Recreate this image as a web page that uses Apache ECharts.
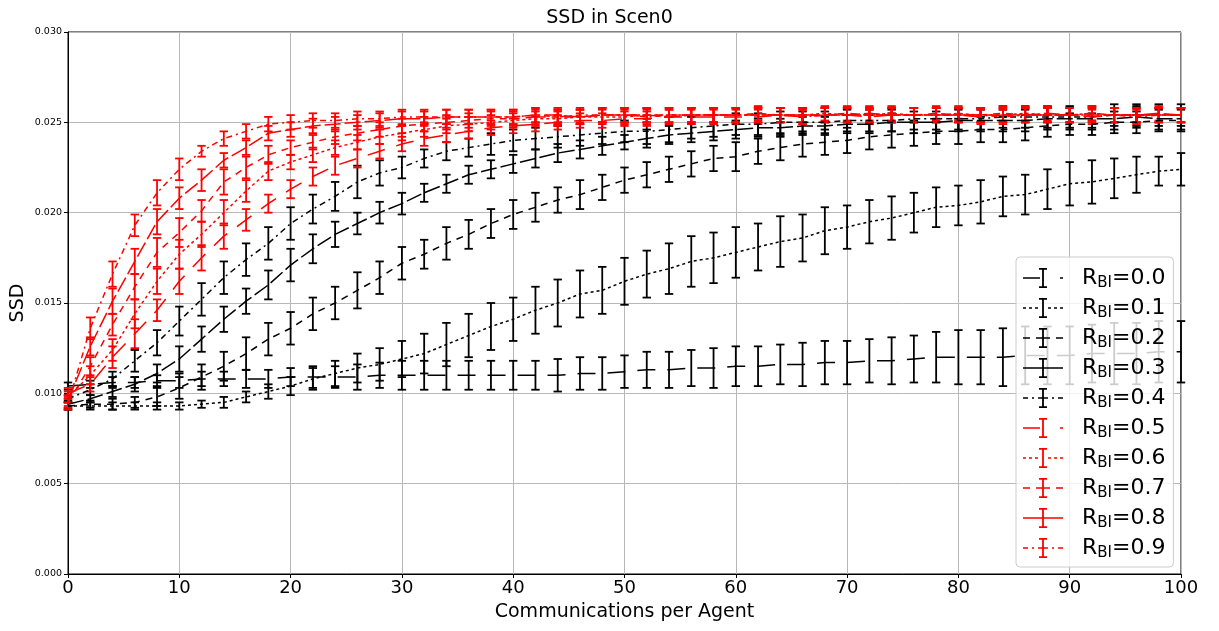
<!DOCTYPE html>
<html><head><meta charset="utf-8">
<script src="https://cdn.jsdelivr.net/npm/echarts@6/dist/echarts.min.js"></script>
<style>html,body{margin:0;padding:0;background:#fff}#c{width:1219px;height:631px}</style>
</head><body><div id="c"></div><script>
const xValues = [0,2,4,6,8,10,12,14,16,18,20,22,24,26,28,30,32,34,36,38,40,42,44,46,48,50,52,54,56,58,60,62,64,66,68,70,72,74,76,78,80,82,84,86,88,90,92,94,96,98,100];
const xTicks = [0,10,20,30,40,50,60,70,80,90,100];
const yTicks = [0,0.005,0.010,0.015,0.020,0.025,0.030];
const seriesLabels = ['0.0','0.1','0.2','0.3','0.4','0.5','0.6','0.7','0.8','0.9'];

const ssd00 = [0.0104,0.0105,0.0106,0.0106,0.0107,0.0107,0.0108,0.0108,0.0108,0.0108,0.0109,
 0.0109,0.0109,0.0109,0.0110,0.0110,0.0110,0.0110,0.0110,0.0110,0.0110,
 0.0110,0.0110,0.0111,0.0111,0.0112,0.0113,0.0113,0.0114,0.0114,0.0115,
 0.0115,0.0116,0.0116,0.0117,0.0117,0.0118,0.0118,0.0119,0.0120,0.0120,
 0.0120,0.0120,0.0121,0.0121,0.0121,0.0122,0.0122,0.0122,0.0123,0.0123];
const err00 = [0.0002,0.0002,0.0003,0.0003,0.0003,0.0004,0.0004,0.0004,0.0005,0.0005,0.0005,
 0.0006,0.0006,0.0007,0.0007,0.0008,0.0008,0.0008,0.0008,0.0008,0.0008,
 0.0008,0.0009,0.0009,0.0009,0.0009,0.0010,0.0010,0.0010,0.0011,0.0011,
 0.0011,0.0011,0.0012,0.0012,0.0012,0.0012,0.0013,0.0013,0.0014,0.0015,
 0.0015,0.0016,0.0016,0.0016,0.0016,0.0016,0.0017,0.0017,0.0017,0.0017];

const ssd01 = [0.0093,0.0093,0.0093,0.0093,0.0093,0.0093,0.0094,0.0095,0.0098,0.0101,0.0104,
 0.0108,0.0111,0.0114,0.0116,0.0119,0.0122,0.0127,0.0132,0.0137,0.0141,
 0.0146,0.0150,0.0155,0.0157,0.0162,0.0166,0.0169,0.0173,0.0175,0.0178,
 0.0181,0.0184,0.0186,0.0190,0.0192,0.0195,0.0197,0.0200,0.0203,0.0204,
 0.0206,0.0209,0.0210,0.0213,0.0216,0.0217,0.0219,0.0221,0.0223,0.0224];
const err01 = [0.0002,0.0002,0.0002,0.0002,0.0002,0.0002,0.0002,0.0003,0.0003,0.0004,0.0005,
 0.0006,0.0007,0.0008,0.0009,0.0010,0.0011,0.0012,0.0012,0.0013,0.0012,
 0.0013,0.0013,0.0013,0.0013,0.0013,0.0013,0.0014,0.0014,0.0014,0.0014,
 0.0013,0.0014,0.0013,0.0013,0.0012,0.0012,0.0012,0.0011,0.0011,0.0011,
 0.0012,0.0011,0.0011,0.0011,0.0012,0.0012,0.0011,0.0010,0.0008,0.0009];

const ssd02 = [0.0093,0.0094,0.0094,0.0095,0.0098,0.0103,0.0109,0.0115,0.0122,0.0130,0.0136,
 0.0144,0.0150,0.0157,0.0164,0.0172,0.0177,0.0183,0.0188,0.0194,0.0199,
 0.0203,0.0207,0.0210,0.0214,0.0218,0.0221,0.0224,0.0227,0.0230,0.0231,
 0.0234,0.0236,0.0238,0.0239,0.0240,0.0242,0.0243,0.0244,0.0245,0.0245,
 0.0246,0.0246,0.0247,0.0248,0.0249,0.0249,0.0250,0.0250,0.0251,0.0251];
const err02 = [0.0002,0.0002,0.0003,0.0003,0.0005,0.0006,0.0007,0.0008,0.0009,0.0009,0.0009,
 0.0009,0.0009,0.0010,0.0009,0.0009,0.0008,0.0009,0.0008,0.0008,0.0008,
 0.0008,0.0007,0.0008,0.0007,0.0007,0.0007,0.0007,0.0007,0.0007,0.0008,
 0.0007,0.0007,0.0007,0.0007,0.0007,0.0007,0.0007,0.0007,0.0007,0.0007,
 0.0007,0.0007,0.0007,0.0006,0.0006,0.0006,0.0006,0.0006,0.0006,0.0006];

const ssd03 = [0.0094,0.0097,0.0101,0.0105,0.0111,0.0119,0.0130,0.0141,0.0151,0.0160,0.0171,
 0.0180,0.0188,0.0194,0.0200,0.0205,0.0211,0.0216,0.0221,0.0224,0.0227,
 0.0230,0.0233,0.0235,0.0237,0.0239,0.0241,0.0243,0.0244,0.0245,0.0246,
 0.0247,0.0247,0.0248,0.0248,0.0249,0.0249,0.0250,0.0250,0.0250,0.0251,
 0.0251,0.0251,0.0251,0.0252,0.0252,0.0252,0.0252,0.0253,0.0252,0.0252];
const err03 = [0.0002,0.0002,0.0003,0.0004,0.0005,0.0007,0.0007,0.0007,0.0007,0.0008,0.0009,
 0.0008,0.0007,0.0006,0.0006,0.0006,0.0005,0.0005,0.0005,0.0005,0.0005,
 0.0005,0.0005,0.0005,0.0005,0.0004,0.0005,0.0005,0.0005,0.0005,0.0005,
 0.0005,0.0005,0.0005,0.0005,0.0005,0.0005,0.0005,0.0006,0.0006,0.0006,
 0.0006,0.0006,0.0006,0.0006,0.0006,0.0006,0.0006,0.0006,0.0006,0.0006];

const ssd04 = [0.0097,0.0102,0.0108,0.0118,0.0128,0.0140,0.0152,0.0164,0.0174,0.0183,0.0194,
 0.0202,0.0209,0.0217,0.0222,0.0225,0.0230,0.0234,0.0236,0.0238,0.0240,
 0.0241,0.0242,0.0243,0.0244,0.0245,0.0245,0.0246,0.0247,0.0248,0.0249,
 0.0249,0.0250,0.0250,0.0250,0.0251,0.0251,0.0251,0.0252,0.0252,0.0252,
 0.0252,0.0253,0.0253,0.0253,0.0253,0.0253,0.0254,0.0254,0.0254,0.0254];
const err04 = [0.0002,0.0003,0.0004,0.0006,0.0007,0.0008,0.0009,0.0009,0.0009,0.0009,0.0009,
 0.0008,0.0008,0.0009,0.0007,0.0006,0.0005,0.0005,0.0005,0.0006,0.0006,
 0.0006,0.0006,0.0006,0.0006,0.0006,0.0007,0.0007,0.0006,0.0006,0.0006,
 0.0006,0.0006,0.0006,0.0006,0.0006,0.0006,0.0006,0.0006,0.0006,0.0006,
 0.0006,0.0006,0.0006,0.0006,0.0006,0.0006,0.0006,0.0006,0.0006,0.0006];

const ssd05 = [0.0100,0.0105,0.0120,0.0133,0.0146,0.0162,0.0175,0.0187,0.0196,0.0205,0.0213,
 0.0220,0.0226,0.0230,0.0234,0.0238,0.0241,0.0243,0.0245,0.0247,0.0248,
 0.0249,0.0250,0.0251,0.0251,0.0252,0.0252,0.0253,0.0253,0.0253,0.0253,
 0.0253,0.0254,0.0253,0.0254,0.0254,0.0253,0.0254,0.0254,0.0254,0.0254,
 0.0253,0.0254,0.0254,0.0254,0.0254,0.0253,0.0254,0.0254,0.0254,0.0254];
const err05 = [0.0003,0.0004,0.0006,0.0008,0.0006,0.0007,0.0007,0.0007,0.0006,0.0005,0.0005,
 0.0005,0.0005,0.0005,0.0004,0.0004,0.0004,0.0004,0.0004,0.0004,0.0004,
 0.0004,0.0004,0.0004,0.0004,0.0004,0.0004,0.0004,0.0004,0.0004,0.0004,
 0.0004,0.0004,0.0004,0.0004,0.0004,0.0004,0.0004,0.0004,0.0004,0.0004,
 0.0004,0.0004,0.0004,0.0004,0.0004,0.0004,0.0004,0.0004,0.0004,0.0004];

const ssd06 = [0.0098,0.0110,0.0124,0.0144,0.0162,0.0177,0.0188,0.0200,0.0212,0.0223,0.0228,
 0.0232,0.0236,0.0239,0.0242,0.0244,0.0246,0.0248,0.0249,0.0250,0.0251,
 0.0252,0.0252,0.0253,0.0253,0.0253,0.0254,0.0254,0.0254,0.0254,0.0254,
 0.0254,0.0254,0.0254,0.0255,0.0254,0.0254,0.0255,0.0254,0.0254,0.0255,
 0.0254,0.0254,0.0255,0.0254,0.0254,0.0255,0.0254,0.0254,0.0254,0.0254];
const err06 = [0.0003,0.0005,0.0006,0.0008,0.0007,0.0008,0.0007,0.0007,0.0006,0.0005,0.0004,
 0.0004,0.0004,0.0004,0.0004,0.0004,0.0004,0.0004,0.0004,0.0004,0.0004,
 0.0004,0.0004,0.0004,0.0004,0.0004,0.0004,0.0004,0.0004,0.0004,0.0004,
 0.0004,0.0004,0.0004,0.0004,0.0004,0.0004,0.0004,0.0004,0.0004,0.0004,
 0.0004,0.0004,0.0004,0.0004,0.0004,0.0004,0.0004,0.0004,0.0004,0.0004];

const ssd07 = [0.0095,0.0115,0.0138,0.0159,0.0178,0.0189,0.0201,0.0217,0.0225,0.0232,0.0236,
 0.0239,0.0242,0.0244,0.0246,0.0248,0.0249,0.0250,0.0251,0.0252,0.0252,
 0.0253,0.0253,0.0253,0.0254,0.0254,0.0254,0.0254,0.0254,0.0254,0.0254,
 0.0255,0.0254,0.0254,0.0254,0.0255,0.0254,0.0254,0.0254,0.0255,0.0254,
 0.0254,0.0255,0.0254,0.0254,0.0254,0.0255,0.0254,0.0254,0.0254,0.0254];
const err07 = [0.0003,0.0005,0.0006,0.0007,0.0008,0.0008,0.0006,0.0007,0.0006,0.0005,0.0004,
 0.0004,0.0004,0.0004,0.0004,0.0004,0.0004,0.0004,0.0004,0.0004,0.0004,
 0.0004,0.0004,0.0004,0.0004,0.0004,0.0004,0.0004,0.0004,0.0004,0.0004,
 0.0004,0.0004,0.0004,0.0004,0.0004,0.0004,0.0004,0.0004,0.0004,0.0004,
 0.0004,0.0004,0.0004,0.0004,0.0004,0.0004,0.0004,0.0004,0.0004,0.0004];

const ssd08 = [0.0096,0.0126,0.0151,0.0173,0.0195,0.0208,0.0218,0.0229,0.0236,0.0244,0.0246,
 0.0248,0.0249,0.0250,0.0251,0.0252,0.0252,0.0253,0.0253,0.0253,0.0253,
 0.0254,0.0254,0.0253,0.0254,0.0254,0.0254,0.0253,0.0254,0.0254,0.0254,
 0.0254,0.0254,0.0254,0.0254,0.0254,0.0255,0.0254,0.0254,0.0254,0.0254,
 0.0254,0.0254,0.0254,0.0255,0.0254,0.0254,0.0254,0.0254,0.0255,0.0254];
const err08 = [0.0003,0.0005,0.0007,0.0007,0.0007,0.0006,0.0006,0.0004,0.0004,0.0004,0.0004,
 0.0004,0.0004,0.0004,0.0004,0.0004,0.0004,0.0004,0.0004,0.0004,0.0004,
 0.0004,0.0004,0.0004,0.0004,0.0004,0.0004,0.0004,0.0004,0.0004,0.0004,
 0.0004,0.0004,0.0004,0.0004,0.0004,0.0004,0.0004,0.0004,0.0004,0.0004,
 0.0004,0.0004,0.0004,0.0004,0.0004,0.0004,0.0004,0.0004,0.0004,0.0004];

const ssd09 = [0.0094,0.0136,0.0166,0.0193,0.0211,0.0224,0.0234,0.0241,0.0245,0.0249,0.0250,
 0.0251,0.0251,0.0252,0.0252,0.0253,0.0253,0.0253,0.0253,0.0253,0.0253,
 0.0254,0.0253,0.0254,0.0254,0.0254,0.0253,0.0254,0.0254,0.0254,0.0254,
 0.0254,0.0254,0.0253,0.0254,0.0254,0.0254,0.0254,0.0254,0.0254,0.0254,
 0.0254,0.0253,0.0254,0.0254,0.0254,0.0254,0.0254,0.0253,0.0254,0.0254];
const err09 = [0.0003,0.0006,0.0007,0.0006,0.0007,0.0006,0.0003,0.0004,0.0004,0.0004,0.0004,
 0.0004,0.0004,0.0004,0.0004,0.0004,0.0004,0.0004,0.0004,0.0004,0.0004,
 0.0004,0.0004,0.0004,0.0004,0.0004,0.0004,0.0004,0.0004,0.0004,0.0004,
 0.0004,0.0004,0.0004,0.0004,0.0004,0.0004,0.0004,0.0004,0.0004,0.0004,
 0.0004,0.0004,0.0004,0.0004,0.0004,0.0004,0.0004,0.0004,0.0004,0.0004];

const allValues = [ssd00, ssd01, ssd02, ssd03, ssd04, ssd05, ssd06, ssd07, ssd08, ssd09];
const allErrors = [err00, err01, err02, err03, err04, err05, err06, err07, err08, err09];

// ---- styles ----
const FONT = 'DejaVu Sans';
const colorOf = i => (i < 5 ? '#000000' : '#ff0000');
const dashPatterns = [[18, 12], [3, 3], [7, 6], [16, 4], [6, 4, 2, 4]];
const legendSegs = [
  [[0, 17], [37, 40]],
  [[0, 3], [6, 9], [12, 15], [25, 28], [31, 34], [37, 40]],
  [[0, 7], [13, 27], [33, 40]],
  [[0, 40]],
  [[0, 5], [9, 11], [15, 25], [29, 31], [35, 40]]
];
function iconPath(segs) {
  let p = '';
  segs.forEach(([a, b]) => { p += `M${a} 9.25L${b} 9.25L${b} 10.75L${a} 10.75Z`; });
  p += 'M19.1 0L20.9 0L20.9 20L19.1 20Z';
  p += 'M16 0L24 0L24 1.8L16 1.8Z';
  p += 'M16 18.2L24 18.2L24 20L16 20Z';
  return 'path://' + p;
}
const nameOf = i => 'R_BI=' + seriesLabels[i];

const series = [];
allValues.forEach((vals, i) => {
  const col = colorOf(i);
  series.push({
    name: nameOf(i),
    type: 'line',
    data: xValues.map((x, k) => [x, vals[k]]),
    symbol: 'none',
    showSymbol: false,
    lineStyle: { color: col, width: 1.5, type: dashPatterns[i % 5] },
    itemStyle: { color: col },
    animation: false,
    silent: true
  });
  series.push({
    name: nameOf(i),
    type: 'custom',
    data: xValues.map((x, k) => [x, vals[k], allErrors[i][k]]),
    encode: { x: 0, y: 1 },
    itemStyle: { color: col },
    animation: false,
    silent: true,
    renderItem: function (params, api) {
      const x = api.value(0), y = api.value(1), e = api.value(2);
      const top = api.coord([x, y + e]);
      const bot = api.coord([x, y - e]);
      const cap = 4.2;
      const st = { stroke: col, lineWidth: 1.8 };
      return {
        type: 'group',
        children: [
          { type: 'line', shape: { x1: top[0], y1: top[1], x2: bot[0], y2: bot[1] }, style: st },
          { type: 'line', shape: { x1: top[0] - cap, y1: top[1], x2: top[0] + cap, y2: top[1] }, style: st },
          { type: 'line', shape: { x1: bot[0] - cap, y1: bot[1], x2: bot[0] + cap, y2: bot[1] }, style: st }
        ]
      };
    }
  });
});

const chart = echarts.init(document.getElementById('c'), null, { renderer: 'canvas' });
chart.setOption({
  animation: false,
  backgroundColor: '#ffffff',
  title: {
    text: 'SSD in Scen0', left: 'center', top: 9, padding: 0,
    textStyle: { fontFamily: FONT, fontSize: 19, fontWeight: 'normal', color: '#000' }
  },
  grid: { left: 68, right: 38, top: 32, bottom: 57, show: true, borderColor: '#000', borderWidth: 1,
    backgroundColor: 'transparent', containLabel: false, outerBoundsMode: 'none' },
  xAxis: {
    type: 'value', min: 0, max: 100, interval: 10,
    name: 'Communications per Agent', nameLocation: 'middle', nameGap: 29,
    nameTextStyle: { fontFamily: FONT, fontSize: 19, color: '#000' },
    axisLine: { show: true, onZero: false, lineStyle: { color: '#000', width: 1 } },
    axisTick: { show: true, length: 4, lineStyle: { color: '#000' } },
    axisLabel: { fontFamily: FONT, fontSize: 18, color: '#000', margin: 5,
      formatter: v => (xTicks.indexOf(v) >= 0 ? String(v) : '') },
    splitLine: { show: true, lineStyle: { color: '#b8b8b8', width: 1 } }
  },
  yAxis: {
    type: 'value', min: 0, max: 0.03, interval: 0.005,
    name: 'SSD', nameLocation: 'middle', nameGap: 40, nameRotate: 90, nameMoveOverlap: false,
    nameTextStyle: { fontFamily: FONT, fontSize: 19, color: '#000' },
    axisLine: { show: true, lineStyle: { color: '#000', width: 1 } },
    axisTick: { show: true, length: 4, lineStyle: { color: '#000' } },
    axisLabel: { fontFamily: FONT, fontSize: 9.5, color: '#000', margin: 6,
      formatter: v => {
        const t = yTicks.find(q => Math.abs(q - v) < 1e-9);
        return t === undefined ? '' : t.toFixed(3);
      } },
    splitLine: { show: true, lineStyle: { color: '#b8b8b8', width: 1 } }
  },
  legend: {
    orient: 'vertical', left: 1016, top: 257,
    itemWidth: 40, itemHeight: 20, itemGap: 6,
    padding: [10, 8, 6, 7],
    backgroundColor: 'rgba(255,255,255,0.8)',
    borderColor: '#cccccc', borderWidth: 1, borderRadius: 4,
    selectedMode: false,
    itemStyle: { borderWidth: 0 },
    data: seriesLabels.map((l, i) => ({ name: nameOf(i), icon: iconPath(legendSegs[i % 5]) })),
    formatter: function (name) {
      return '{r|R}{s|BI}{t|=' + name.split('=')[1] + '}';
    },
    textStyle: {
      fontFamily: FONT, color: '#000',
      rich: {
        r: { fontFamily: FONT, fontSize: 22, color: '#000', lineHeight: 26, padding: [0, 0, 0, 14] },
        s: { fontFamily: FONT, fontSize: 15, color: '#000', lineHeight: 14, verticalAlign: 'bottom' },
        t: { fontFamily: FONT, fontSize: 22, color: '#000', lineHeight: 26 }
      }
    }
  },
  series: series
});
</script></body></html>
